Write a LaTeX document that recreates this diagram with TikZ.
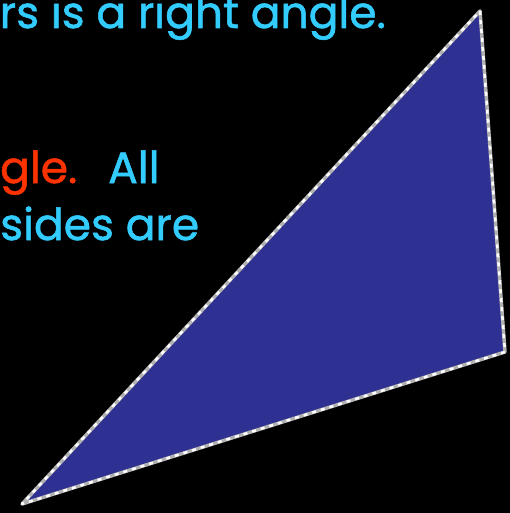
\documentclass[tikz,border=0pt]{standalone}
\usepackage{fontspec}
\newfontfamily\slidefont{Poppins}[FakeBold=1.2]
\usepackage{xcolor}
\usepackage{tikz}
\usetikzlibrary{positioning}

\definecolor{slidecyan}{RGB}{51,204,255}
\definecolor{slidered}{RGB}{255,51,0}
\definecolor{triblue}{RGB}{46,49,146}

\tikzset{
  slidetext/.style={inner sep=0pt, text=slidecyan, font=\slidefont\fontsize{44}{48}\selectfont},
  edgeline/.style={line width=3.5pt, gray!60, line join=round},
  edgedash/.style={line width=2.5pt, white, dash pattern=on 4pt off 5pt, line join=round}
}

\begin{document}
\begin{tikzpicture}[x=1pt,y=-1pt]
  % Background
  \fill[black] (0,0) rectangle (510,513);
  \useasboundingbox (0,0) rectangle (510,513);
  % Text lines (cut at the left edge)
  \node[slidetext, anchor=base east] (line1) at (386,28) {rs is a right angle.};
  \node[slidetext, anchor=base west, text=slidered] (word) at (0,183) {gle.};
  \node[slidetext, anchor=base west] (all) at (108,183) {All};
  \node[slidetext, anchor=base west] (line3) at (0,240) {sides are};
  % Triangle corners
  \coordinate (top) at (480,11);
  \coordinate (right) at (505,352);
  \coordinate (left) at (22,504);
  % Triangle
  \fill[triblue] (top) -- (right) -- (left) -- cycle;
  \draw[edgeline] (top) -- (right) -- (left) -- cycle;
  \draw[edgedash] (top) -- (right) -- (left) -- cycle;
\end{tikzpicture}
\end{document}
